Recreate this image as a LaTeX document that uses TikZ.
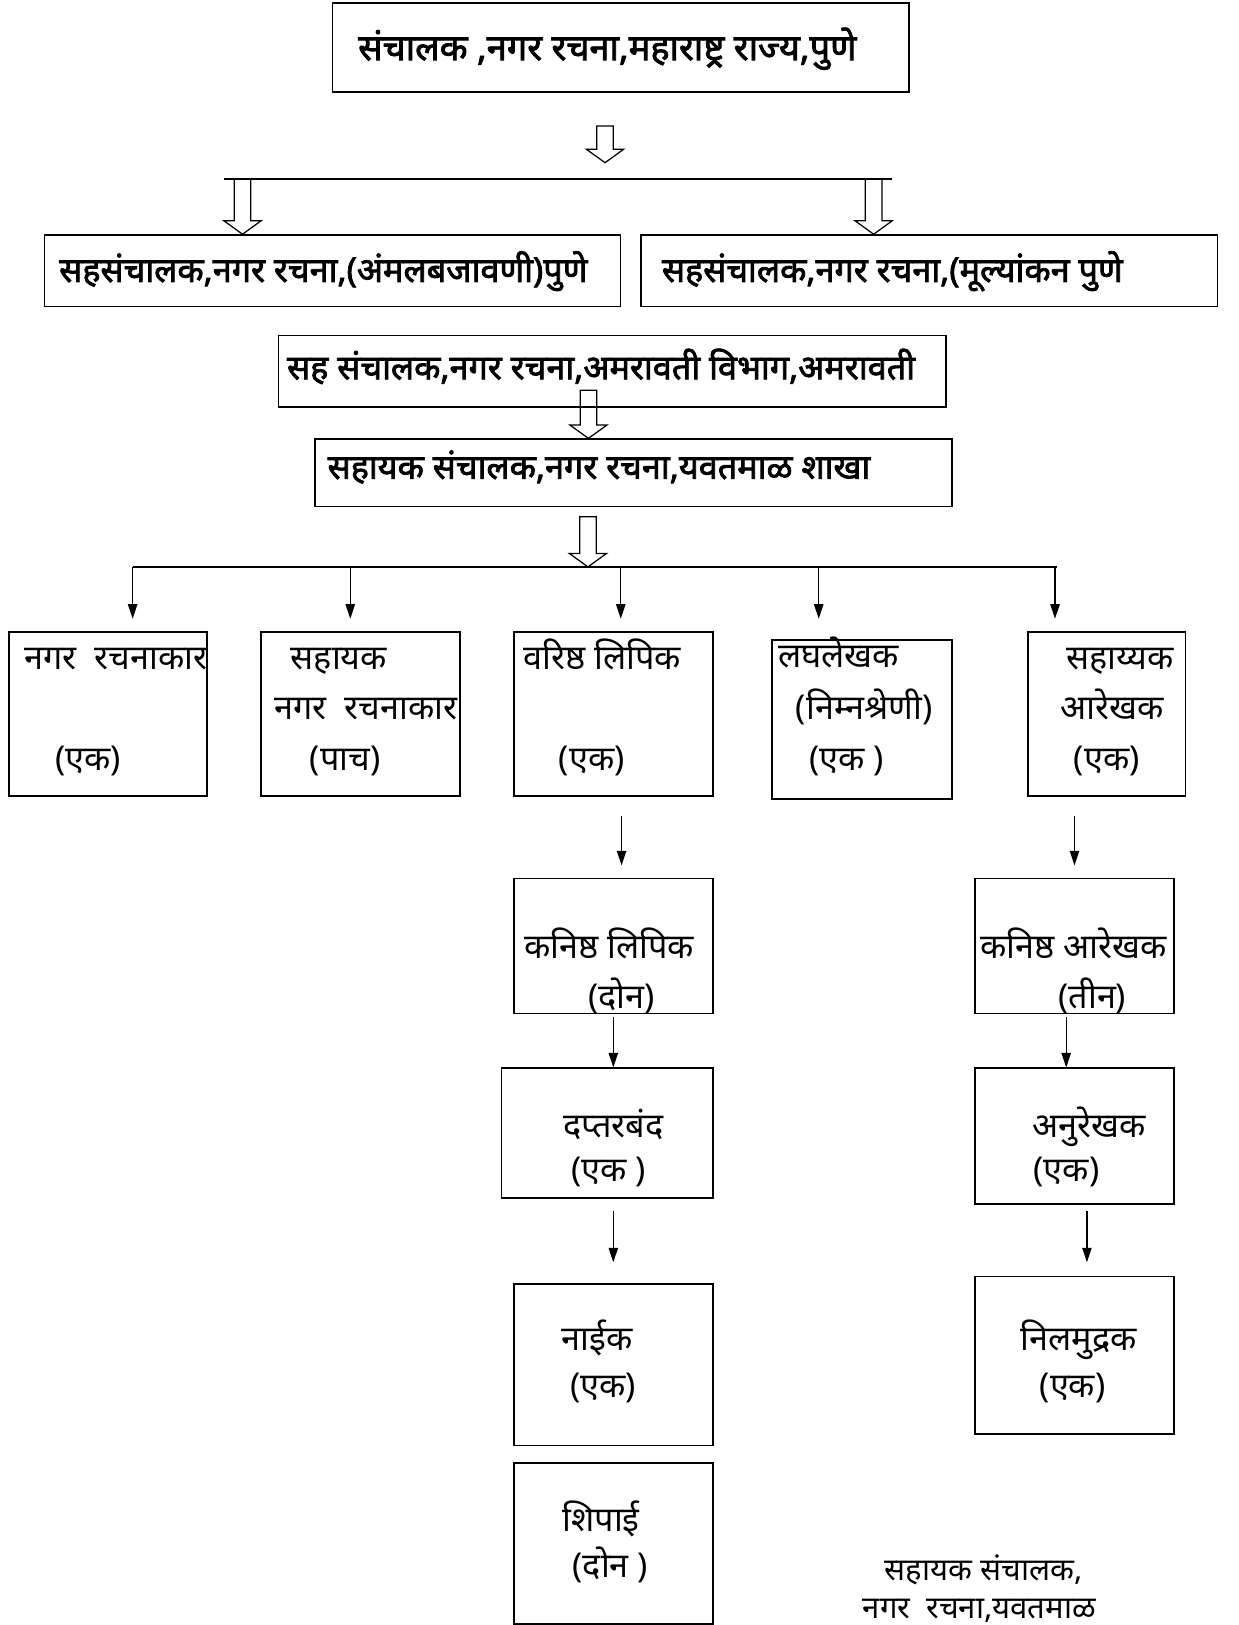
\documentclass[tikz,border=0pt]{standalone}
\usepackage{fontspec}
\newfontfamily\deva[Script=Devanagari]{Noto Sans}
\newfontfamily\devab[Script=Devanagari, FakeBold=2.2]{Noto Sans}
\usetikzlibrary{arrows.meta, positioning, calc}

\begin{document}
\begin{tikzpicture}[x=1pt, y=-1pt,
    box/.style={rectangle, draw, line width=1.6pt, anchor=north west, inner sep=0pt},
    hd/.style={font=\devab\fontsize{33}{38}\selectfont, anchor=base, inner sep=0pt},
    txt/.style={font=\deva\fontsize{33}{38}\selectfont, anchor=base, inner sep=0pt},
    sig/.style={font=\deva\fontsize{30}{36}\selectfont, anchor=base, inner sep=0pt},
    arr/.style={-{Triangle[length=14pt, width=9pt]}, line width=1.3pt},
    bar/.style={line width=1.6pt},
    harrow/.style={line width=1.2pt, to path={let \p1=(\tikztostart), \p2=(\tikztotarget) in
        (\x1-8pt,\y1) -- (\x1-8pt,\y2+13pt) -- (\x1-18pt,\y2+13pt) -- (\x1,\y2)
        -- (\x1+18pt,\y2+13pt) -- (\x1+8pt,\y2+13pt) -- (\x1+8pt,\y1) -- cycle}}
  ]
  \useasboundingbox (0,0) rectangle (1195,1568);

  % upper offices
  \node[box, minimum width=556pt, minimum height=86pt] (top) at (320,2) {};
  \node[box, minimum width=556pt, minimum height=69pt] (sL) at (42,226) {};
  \node[box, minimum width=556pt, minimum height=69pt] (sR) at (618,226) {};
  \node[box, minimum width=644pt, minimum height=69pt] (amr) at (268,323) {};
  \node[box, minimum width=615pt, minimum height=65pt] (ytl) at (303,423) {};

  \node[hd, font=\devab\fontsize{35}{40}\selectfont] (topT) at (586,58) {संचालक ,नगर रचना,महाराष्ट्र राज्य,पुणे};
  \node[hd] (sLT) at (312,272) {सहसंचालक,नगर रचना,(अंमलबजावणी)पुणे};
  \node[hd] (sRT) at (861,272) {सहसंचालक,नगर रचना,(मूल्यांकन पुणे};
  \node[hd] (amrT) at (580,366) {सह संचालक,नगर रचना,अमरावती विभाग,अमरावती};
  \node[hd] (ytlT) at (578,462) {सहायक संचालक,नगर रचना,यवतमाळ शाखा};

  \coordinate (hL) at (216,173);
  \coordinate (hR) at (861,173);
  \coordinate (hA) at (583,173);
  \coordinate (hL2) at (234,173);
  \coordinate (hR2) at (843,173);
  \draw[bar] (hL) -- (hR);
  \draw[harrow] ([xshift=-15pt, yshift=-32pt]top.south) to ([yshift=16pt]hA);
  \draw[harrow] (hL2) to (sL.north);
  \draw[harrow] (hR2) to (sR.north);
  \draw[harrow] ([xshift=-23pt, yshift=17pt]amr.south) to (ytl.north);

  % staff row
  \node[box, minimum width=191pt, minimum height=158pt] (nrk) at (8,609) {};
  \node[box, minimum width=192pt, minimum height=158pt] (snrk) at (251,609) {};
  \node[box, minimum width=192pt, minimum height=158pt] (vl) at (495,609) {};
  \node[box, minimum width=174pt, minimum height=153pt] (lgl) at (744,617) {};
  \node[box, minimum width=152pt, minimum height=158pt] (sar) at (991,609) {};

  \node[txt] (nrk1) at (112,646) {नगर\ \ रचनाकार};
  \node[txt] (nrk2) at (85,743) {(एक)};
  \node[txt] (snrk1) at (327,646) {सहायक};
  \node[txt] (snrk2) at (353,694) {नगर\ \ रचनाकार};
  \node[txt] (snrk3) at (333,743) {(पाच)};
  \node[txt] (vl1) at (581,646) {वरिष्ठ लिपिक};
  \node[txt] (vl2) at (571,743) {(एक)};
  \node[txt] (lgl1) at (809,644) {लघलेखक};
  \node[txt] (lgl2) at (834,694) {(निम्नश्रेणी)};
  \node[txt] (lgl3) at (817,743) {(एक )};
  \node[txt] (sar1) at (1081,646) {सहाय्यक};
  \node[txt] (sar2) at (1073,694) {आरेखक};
  \node[txt] (sar3) at (1068,743) {(एक)};

  \coordinate (hC) at (566,547);
  \coordinate (bL) at (128,547);
  \coordinate (bR) at (1020,547);
  \coordinate (t2) at (338,547);
  \coordinate (t3) at (599,547);
  \coordinate (t4) at (790,547);
  \coordinate (t5) at (1018,547);
  \draw[harrow] ([xshift=-44pt, yshift=-9pt]ytl.south) to (hC);
  \draw[bar] (bL) -- (bR);
  \draw[arr, shorten >=12pt] (bL) -- (bL |- nrk.north);
  \draw[arr, shorten >=12pt] (t2) -- (t2 |- snrk.north);
  \draw[arr, shorten >=12pt] (t3) -- (t3 |- vl.north);
  \draw[arr, shorten >=20pt] (t4) -- (t4 |- lgl.north);
  \draw[arr, shorten >=12pt] (t5) -- (t5 |- sar.north);

  % clerical side
  \node[box, minimum width=192pt, minimum height=130pt] (kl) at (495,847) {};
  \node[box, minimum width=204pt, minimum height=125pt] (dpt) at (483,1030) {};
  \node[box, minimum width=192pt, minimum height=156pt] (nak) at (495,1238) {};
  \node[box, minimum width=192pt, minimum height=155pt] (sip) at (495,1411) {};

  \node[txt] (kl1) at (588,925) {कनिष्ठ लिपिक};
  \node[txt] (kl2) at (600,973) {(दोन)};
  \node[txt] (dpt1) at (592,1098) {दप्तरबंद};
  \node[txt] (dpt2) at (587,1140) {(एक )};
  \node[txt] (nak1) at (576,1303) {नाईक};
  \node[txt] (nak2) at (582,1348) {(एक)};
  \node[txt] (sip1) at (580,1478) {शिपाई};
  \node[txt] (sip2) at (589,1522) {(दोन )};

  \draw[arr, shorten <=19pt, shorten >=12pt] ([xshift=8pt]vl.south) -- ([xshift=8pt]kl.north);
  \draw[arr, shorten <=3pt] (kl.south) -- (kl.south |- dpt.north);
  \draw[arr, shorten <=12pt, shorten >=20pt] (nak.north |- dpt.south) -- (nak.north);

  % drawing side
  \node[box, minimum width=192pt, minimum height=130pt] (kar) at (940,847) {};
  \node[box, minimum width=192pt, minimum height=131pt] (anr) at (940,1030) {};
  \node[box, minimum width=192pt, minimum height=152pt] (nml) at (940,1231) {};

  \node[txt] (kar1) at (1036,925) {कनिष्ठ आरेखक};
  \node[txt] (kar2) at (1054,973) {(तीन)};
  \node[txt] (anr1) at (1051,1098) {अनुरेखक};
  \node[txt] (anr2) at (1029,1140) {(एक)};
  \node[txt] (nml1) at (1041,1303) {निलमुद्रक};
  \node[txt] (nml2) at (1035,1348) {(एक)};

  \draw[arr, shorten <=19pt, shorten >=12pt] (sar.south -| kar.north) -- (kar.north);
  \draw[arr, shorten <=3pt] ([xshift=-8pt]kar.south) -- ([xshift=-8pt]anr.north);
  \draw[arr, shorten <=6pt, shorten >=13pt] ([xshift=12pt]anr.south) -- ([xshift=12pt]anr.south |- nml.north);

  % signature
  \node[sig] (sg1) at (949,1525) {सहायक संचालक,};
  \node[sig] (sg2) at (945,1562) {नगर\ \ रचना,यवतमाळ};
\end{tikzpicture}
\end{document}
